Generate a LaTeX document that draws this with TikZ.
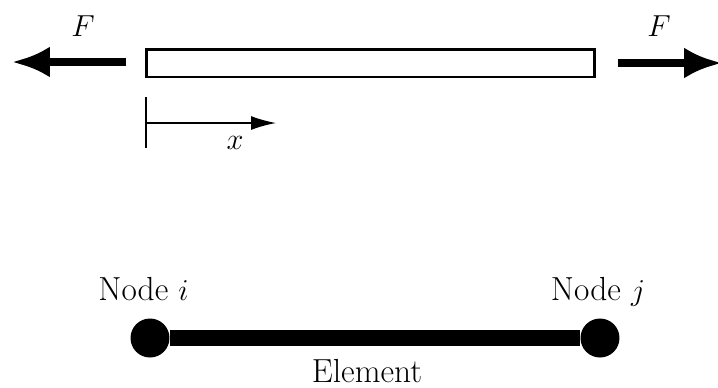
\documentclass[tikz,border=0pt]{standalone}
\usepackage{tikz}
\usetikzlibrary{arrows.meta,positioning}
\tikzset{
  lab/.style={font=\fontsize{19}{22}\selectfont},
  rod/.style={draw=black,line width=1.7pt,fill=white,minimum width=8.98cm,
              minimum height=0.56cm,inner sep=0pt},
  force/.style={-{Latex[length=0.76cm,width=0.62cm]},line width=4.8pt},
  axis/.style={-{Latex[length=0.5cm,width=0.28cm]},line width=0.85pt},
  tick/.style={line width=0.85pt},
  joint/.style={circle,fill=black,minimum size=0.78cm,inner sep=0pt},
  element/.style={line width=8.6pt},
}
\begin{document}
\begin{tikzpicture}[x=0.02cm,y=-0.02cm]
  \path[use as bounding box] (0,0) rectangle (718,387);

  % bar under axial load
  \node[rod] (ROD) at (370.5,63) {};
  \coordinate (FLtail) at (126,62);
  \coordinate (FLtip) at (12,62);
  \coordinate (FRtail) at (618,63);
  \coordinate (FRtip) at (722,63);
  \draw[force] (FLtail) -- (FLtip);
  \draw[force] (FRtail) -- (FRtip);
  \node[lab] (FL) at (83,26) {$F$};
  \node[lab] (FR) at (659,26) {$F$};

  % local coordinate
  \coordinate (O) at (146,123);
  \coordinate (Otop) at (146,97);
  \coordinate (Obot) at (146,148);
  \coordinate (Xend) at (276,123);
  \draw[tick] (Otop) -- (Obot);
  \draw[axis] (O) -- (Xend);
  \node[lab] (XL) at (235,143) {$x$};

  % element with two nodes
  \node[joint] (NI) at (150,338) {};
  \node[joint] (NJ) at (600,338) {};
  \draw[element] (NI) -- (NJ);
  \node[lab,anchor=base] (LI) at (143.5,300) {Node $i$};
  \node[lab,anchor=base] (LJ) at (598,300) {Node $j$};
  \node[lab,anchor=base] (LE) at (367,382) {Element};
\end{tikzpicture}
\end{document}
